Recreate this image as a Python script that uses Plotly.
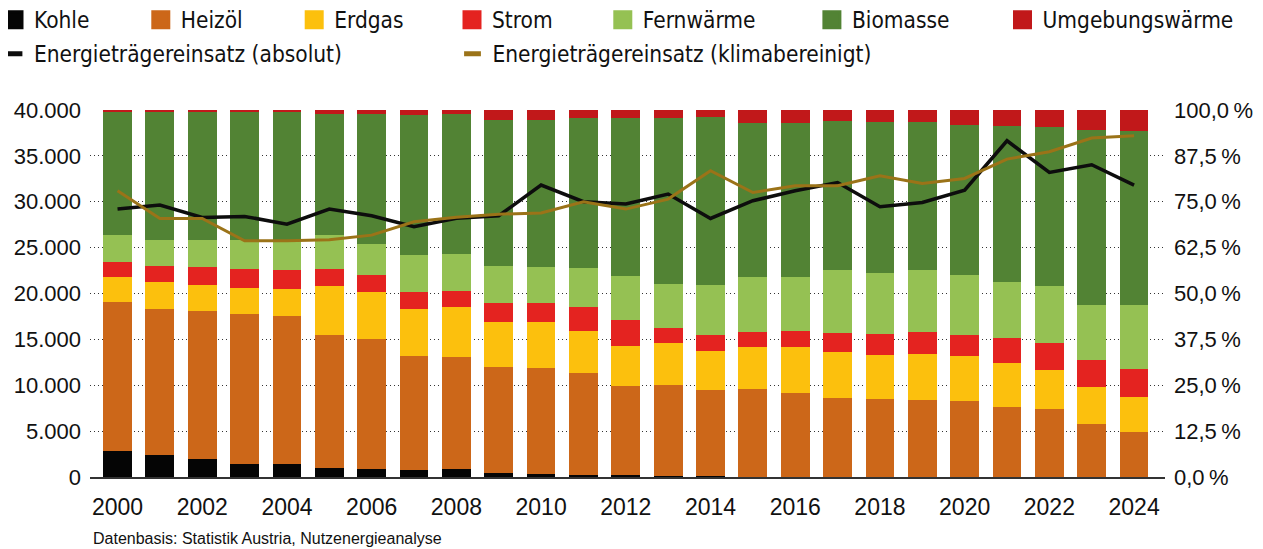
import plotly.graph_objects as go

years = list(range(2000, 2025))

# Shares of the energy carriers in percent (stacked to 100 %)
kohle = [7.1, 6.0, 4.8, 3.6, 3.5, 2.4, 2.3, 1.9, 2.1, 1.0, 0.9, 0.5, 0.5, 0.3, 0.2,
         0.1, 0.1, 0.1, 0.1, 0.1, 0.1, 0.1, 0.1, 0.1, 0.1]
heizoel = [40.7, 39.7, 40.5, 40.8, 40.4, 36.4, 35.4, 31.1, 30.6, 29.0, 28.9, 27.8, 24.3,
           24.7, 23.5, 23.8, 22.9, 21.5, 21.1, 20.8, 20.6, 19.0, 18.5, 14.4, 12.2]
erdgas = [6.6, 7.3, 7.0, 7.0, 7.3, 13.3, 12.7, 12.9, 13.5, 12.2, 12.4, 11.5, 10.9,
          11.4, 10.7, 11.4, 12.5, 12.5, 12.0, 12.7, 12.3, 12.1, 10.5, 9.9, 9.5]
strom = [4.3, 4.5, 4.8, 5.2, 5.2, 4.7, 4.6, 4.6, 4.6, 5.3, 5.2, 6.6, 7.0,
         4.3, 4.2, 4.2, 4.3, 5.1, 5.7, 5.8, 5.7, 6.8, 7.5, 7.4, 7.7]
fernwaerme = [7.2, 7.1, 7.5, 8.0, 8.0, 9.1, 8.6, 10.0, 10.0, 9.9, 9.7, 10.5, 12.1,
              12.0, 13.7, 14.9, 14.7, 17.2, 16.6, 17.0, 16.4, 15.2, 15.5, 15.0, 17.4]
biomasse = [33.7, 35.0, 35.0, 35.0, 35.2, 33.0, 35.3, 38.2, 38.1, 39.9, 40.1, 40.8, 42.9,
            45.0, 45.7, 42.0, 42.0, 40.5, 41.1, 40.4, 40.9, 42.5, 43.4, 47.7, 47.5]
umgebung = [0.4, 0.4, 0.4, 0.4, 0.4, 1.1, 1.1, 1.3, 1.1, 2.7, 2.8, 2.3, 2.3,
            2.3, 2.0, 3.6, 3.5, 3.1, 3.4, 3.2, 4.0, 4.3, 4.5, 5.5, 5.6]

# Energy use (left axis)
absolut = [29200, 29640, 28290, 28400, 27560, 29200, 28470, 27270, 28200, 28470,
           31820, 30000, 29750, 30840, 28180, 30110, 31200, 32100, 29450, 29920,
           31270, 36650, 33190, 34030, 31820]
klimabereinigt = [31200, 28180, 28180, 25740, 25740, 25850, 26360, 27810, 28300, 28650,
                  28770, 30000, 29200, 30290, 33380, 31010, 31740, 31740, 32830, 32000,
                  32540, 34650, 35450, 36950, 37200]

pct_ticks = [0, 12.5, 25, 37.5, 50, 62.5, 75, 87.5, 100]
pct_labels = ["0,0\u2009%", "12,5\u2009%", "25,0\u2009%", "37,5\u2009%", "50,0\u2009%",
              "62,5\u2009%", "75,0\u2009%", "87,5\u2009%", "100,0\u2009%"]
abs_ticks = [0, 5000, 10000, 15000, 20000, 25000, 30000, 35000, 40000]
year_ticks = list(range(2000, 2025, 2))

series = [
    ("Kohle", kohle, "#050505"),
    ("Heizöl", heizoel, "#CC6719"),
    ("Erdgas", erdgas, "#FCC00D"),
    ("Strom", strom, "#E42320"),
    ("Fernwärme", fernwaerme, "#95C153"),
    ("Biomasse", biomasse, "#528334"),
    ("Umgebungswärme", umgebung, "#C1181A"),
]
line_series = [
    ("Energieträgereinsatz (absolut)", absolut, "#0d0d0d", 3.5),
    ("Energieträgereinsatz (klimabereinigt)", klimabereinigt, "#9B7318", 3),
]

# The page body has an 8px margin, so the figure is drawn 8px smaller and offsets are compensated.
BODY = 8
W, H = 1263 - BODY, 549 - BODY

legend_x_row1 = [16.7, 163.3, 316.7, 474.5, 625.3, 834.4, 1025.0]
legend_x_row2 = [16.7, 475.0]
row1_y, row2_y = 20, 54

LEGEND_FONT = "DejaVu Sans Condensed, Liberation Sans Narrow, sans-serif"
TICK_FONT = "Liberation Sans, Arial, sans-serif"
SYM_OFF = 22.5


def legend_cfg(lx, ly):
    x_px = lx - SYM_OFF - BODY
    indent = 0
    if x_px < 0:
        indent = max(-15, round(x_px))
        x_px = 0
    return dict(x=x_px / W, y=1 - (ly - BODY) / H, xref="container", yref="container",
                xanchor="left", yanchor="middle", bgcolor="rgba(0,0,0,0)",
                indentation=indent,
                font=dict(family=LEGEND_FONT, size=22.5, color="#111"), itemwidth=30)


fig = go.Figure()
layout_legends = {}
n = 0
for (name, vals, col), lx in zip(series, legend_x_row1):
    fig.add_trace(go.Bar(x=years, y=vals, name=name, marker=dict(color=col, line=dict(width=0)),
                         width=0.68, showlegend=False, yaxis="y"))
    n += 1
    key = "legend" if n == 1 else f"legend{n}"
    fig.add_trace(go.Scatter(x=[None], y=[None], mode="markers", name=name,
                             marker=dict(symbol="square", size=16, color=col,
                                         line=dict(color=col, width=3)),
                             legend=key, showlegend=True))
    layout_legends[key] = legend_cfg(lx, row1_y)

for (name, vals, col, lw), lx in zip(line_series, legend_x_row2):
    fig.add_trace(go.Scatter(x=years, y=vals, mode="lines", name=name,
                             line=dict(color=col, width=lw), showlegend=False, yaxis="y2"))
    n += 1
    key = f"legend{n}"
    fig.add_trace(go.Scatter(x=[None], y=[None], mode="markers", name=name,
                             marker=dict(symbol="line-ew", size=12, color=col,
                                         line=dict(color=col, width=5)),
                             legend=key, showlegend=True))
    layout_legends[key] = legend_cfg(lx, row2_y)

# plot area in page pixels: x 90..1165, y 110..477
PL, PR, PT, PB = 90, 1165, 110, 477

fig.update_layout(
    width=W, height=H,
    margin=dict(l=PL - BODY, r=W - (PR - BODY), t=PT - BODY, b=H - (PB - BODY), autoexpand=False),
    barmode="stack",
    plot_bgcolor="white", paper_bgcolor="white",
    xaxis=dict(range=[1999.35, 2024.73], tickvals=year_ticks,
               ticktext=[str(y) for y in year_ticks], showgrid=False, zeroline=False, ticks="",
               showline=True, linecolor="#333", linewidth=2,
               tickfont=dict(family=TICK_FONT, size=23, color="#111"), ticklabelstandoff=8),
    yaxis=dict(side="right", range=[0, 100], tickvals=pct_ticks, ticktext=pct_labels,
               showgrid=True, gridcolor="#333", gridwidth=1,
               griddash="1px,3px", zeroline=False, ticks="",
               tickfont=dict(family=TICK_FONT, size=22, color="#111"), ticklabelstandoff=8),
    yaxis2=dict(side="left", overlaying="y", range=[0, 40000], tickvals=abs_ticks,
                ticktext=[f"{v:,}".replace(",", ".") for v in abs_ticks],
                showgrid=False, zeroline=False, ticks="",
                tickfont=dict(family=TICK_FONT, size=22, color="#111"), ticklabelstandoff=8),
    annotations=[dict(text="Datenbasis: Statistik Austria, Nutzenergieanalyse",
                      xref="paper", yref="paper", x=(91 - PL) / (PR - PL), y=(PB - 538) / (PB - PT),
                      xanchor="left", yanchor="middle", showarrow=False,
                      font=dict(family=TICK_FONT, size=16, color="#111"))],
    **layout_legends,
)

fig.write_html("out.html")
